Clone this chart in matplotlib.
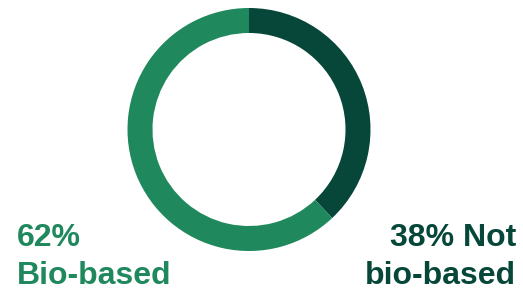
import matplotlib
matplotlib.use("Agg")
import matplotlib.pyplot as plt

labels = ["Not bio-based", "Bio-based"]
shares = [38, 62]
colors = ["#07473A", "#1F885C"]

W, H = 523, 293
fig = plt.figure(figsize=(W / 100, H / 100), dpi=100)

# donut: centre (249, 129.5) px, radius 121.5 px
cx, cy, r = 249, 129.5, 121.5
ax = fig.add_axes([(cx - r) / W, (H - cy - r) / H, 2 * r / W, 2 * r / H])
ax.pie(shares, colors=colors, startangle=90, counterclock=False, radius=1,
       wedgeprops=dict(width=25 / r, linewidth=0))
ax.set_xlim(-1, 1)
ax.set_ylim(-1, 1)
ax.axis("off")

font = dict(family="Liberation Sans", weight="bold", fontsize=23)
fig.text(17 / W, (H - 246.5) / H, f"{shares[1]}%", color=colors[1], ha="left", va="baseline", **font)
fig.text(17 / W, (H - 284) / H, labels[1], color=colors[1], ha="left", va="baseline", **font)
fig.text(516 / W, (H - 246.5) / H, f"{shares[0]}% Not", color=colors[0], ha="right", va="baseline", **font)
fig.text(516 / W, (H - 284) / H, "bio-based", color=colors[0], ha="right", va="baseline", **font)

fig.savefig("out.png", dpi=100)
